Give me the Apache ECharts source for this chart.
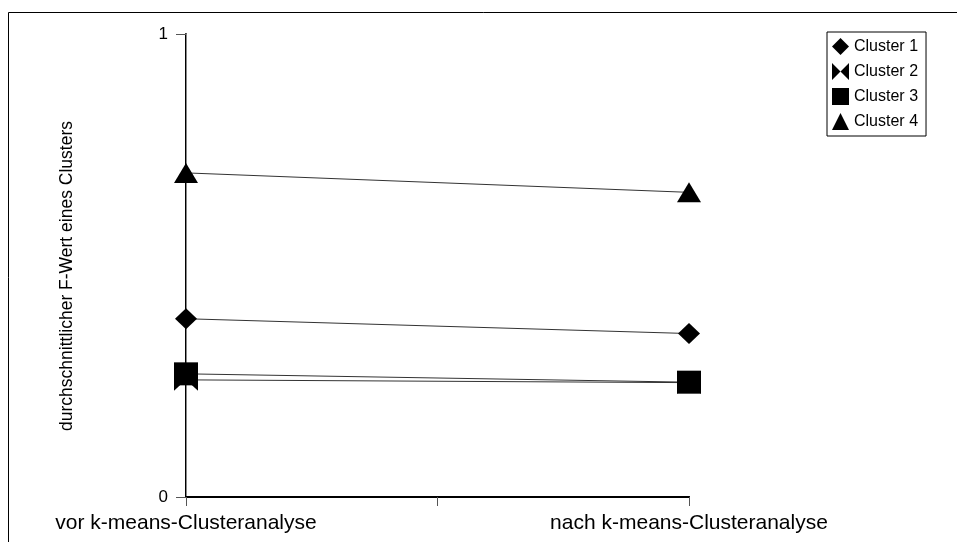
<!DOCTYPE html>
<html>
<head>
<meta charset="utf-8">
<script src="https://cdn.jsdelivr.net/npm/echarts@6/dist/echarts.min.js"></script>
<style>
  html, body { margin: 0; padding: 0; background: #fff; }
  #chart { width: 957px; height: 542px; }
</style>
</head>
<body>
<div id="chart"></div>
<script>
// Stages of the analysis (x positions 0 and 1 on the value axis)
const categories = ['vor k-means-Clusteranalyse', 'nach k-means-Clusteranalyse'];

// Mean F value per cluster, before and after k-means
const cluster1 = [0.385, 0.353];
const cluster2 = [0.253, 0.247];
const cluster3 = [0.266, 0.248];
const cluster4 = [0.700, 0.658];

const seriesNames = ['Cluster 1', 'Cluster 2', 'Cluster 3', 'Cluster 4'];
const yTicks = ['0', '1'];

const FONT = '"Liberation Sans", Arial, sans-serif';
// Two triangles meeting at the centre (square aspect so legend icon is not squashed)
const bowtie = 'path://M0,0 L10,10 L0,20 Z M20,0 L10,10 L20,20 Z';

const markers = [
  { symbol: 'diamond', size: [22, 21] },
  { symbol: bowtie, size: [24, 22] },
  { symbol: 'rect', size: [24, 23] },
  { symbol: 'triangle', size: [24, 20] }
];

const values = [cluster1, cluster2, cluster3, cluster4];

const series = values.map((vals, i) => ({
  name: seriesNames[i],
  type: 'line',
  data: vals.map((v, k) => [k, v]),
  symbol: markers[i].symbol,
  symbolSize: markers[i].size,
  showAllSymbol: true,
  lineStyle: { color: '#333', width: 1 },
  itemStyle: { color: '#000', borderWidth: 0 },
  emphasis: { disabled: true },
  animation: false
}));

const chart = echarts.init(document.getElementById('chart'), null, { renderer: 'canvas' });

chart.setOption({
  backgroundColor: '#fff',
  animation: false,
  grid: { left: 186, right: 268, top: 34, bottom: 45, containLabel: false },
  legend: {
    orient: 'vertical',
    left: 827,
    top: 32,
    padding: [6, 8, 6, 5],
    itemGap: 8,
    itemWidth: 17,
    itemHeight: 17,
    borderColor: '#000',
    borderWidth: 1,
    backgroundColor: '#fff',
    data: seriesNames.map((n, i) => ({ name: n, icon: markers[i].symbol })),
    textStyle: { fontFamily: FONT, fontSize: 16, color: '#000' },
    selectedMode: false
  },
  xAxis: [
    {
      type: 'value',
      min: 0,
      max: 1,
      interval: 0.5,
      splitLine: { show: false },
      axisLine: { lineStyle: { color: '#000', width: 2 } },
      axisTick: { show: true, length: 9, lineStyle: { color: '#555', width: 1 } },
      axisLabel: {
        showMinLabel: true,
        showMaxLabel: true,
        margin: 16,
        fontFamily: FONT,
        fontSize: 21,
        color: '#000',
        formatter: v => (v === 0 ? categories[0] : v === 1 ? categories[1] : '')
      }
    },
    {
      type: 'value',
      position: 'top',
      min: 0,
      max: 1,
      splitLine: { show: false },
      axisLine: { lineStyle: { color: '#000', width: 2 } },
      axisTick: { show: false },
      axisLabel: { show: false }
    }
  ],
  yAxis: [
    {
      type: 'value',
      min: 0,
      max: 1,
      interval: 1,
      splitLine: { show: false },
      axisLine: { lineStyle: { color: '#000', width: 2 } },
      axisTick: { show: true, length: 10, lineStyle: { color: '#555', width: 1 } },
      axisLabel: {
        margin: 18,
        fontFamily: FONT,
        fontSize: 17,
        color: '#000',
        formatter: v => yTicks[Math.round(v)]
      }
    },
    {
      type: 'value',
      position: 'right',
      min: 0,
      max: 1,
      splitLine: { show: false },
      axisLine: { lineStyle: { color: '#888', width: 1 } },
      axisTick: { show: false },
      axisLabel: { show: false }
    }
  ],
  graphic: [
    {
      type: 'rect',
      shape: { x: 8.5, y: 12.5, width: 1000, height: 600 },
      style: { fill: 'none', stroke: '#000', lineWidth: 1 },
      silent: true,
      z: -10
    },
    {
      type: 'text',
      x: 67,
      y: 276,
      rotation: Math.PI / 2,
      style: {
        text: 'durchschnittlicher F-Wert eines Clusters',
        fontFamily: FONT,
        fontSize: 17.5,
        fill: '#000',
        align: 'center',
        verticalAlign: 'middle'
      },
      silent: true
    }
  ],
  series: series
});
</script>
</body>
</html>
